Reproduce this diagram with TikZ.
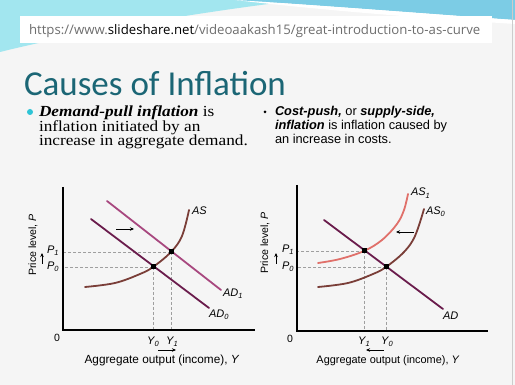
\documentclass[tikz,border=0pt]{standalone}
\usepackage{fontspec}
\setmainfont{Liberation Sans}
\newfontfamily\titlefont{Carlito}
\newfontfamily\urlfont{Open Sans}
\newfontfamily\serifw[FakeStretch=1.12]{Liberation Serif}
\usetikzlibrary{arrows.meta}
\definecolor{bgc}{HTML}{F5F5F5}
\definecolor{cyanbg}{HTML}{A2E6EF}
\definecolor{bluebg}{HTML}{7CCCE5}
\definecolor{titlec}{HTML}{1B6675}
\definecolor{bulletc}{HTML}{2EC4D6}
\definecolor{urlgray}{HTML}{6E6E6E}
\definecolor{adc}{HTML}{6A1C4C}
\definecolor{adlight}{HTML}{A8487F}
\definecolor{asc}{HTML}{7A3E38}
\definecolor{aslight}{HTML}{E0706A}
\newcommand\lbl[2]{\textit{#1}\raisebox{-0.4ex}{\fontsize{7.5}{7.5}\selectfont #2}}
\tikzset{
  txt/.style={inner sep=0pt, outer sep=0pt},
  axisline/.style={line width=1.8pt, black},
  guide/.style={densely dashed, gray!75, line width=0.6pt},
  curveline/.style={line width=1.8pt, line cap=round},
  dotmark/.style={rectangle, fill=black, minimum size=5pt, inner sep=0pt},
  shiftarrow/.style={-{Stealth[length=4pt,width=3.5pt]}, line width=0.8pt},
  glabel/.style={txt, font=\fontsize{11}{11}\selectfont\itshape},
}
\begin{document}
\begin{tikzpicture}[x=1pt,y=-1pt]
\useasboundingbox (0,0) rectangle (515,385);
\fill[bgc] (0,0) rectangle (515,385);
% background swooshes
\fill[cyanbg] (0,0) -- (300,0) .. controls (200,12) and (80,32) .. (0,52) -- cycle;
\fill[bluebg] (235,0) -- (515,0) -- (515,20) .. controls (430,14) and (330,6) .. (235,0) -- cycle;
\fill[white] (235,0) .. controls (330,6) and (430,14) .. (515,20) -- (515,24) .. controls (420,18) and (320,10) .. (235,0) -- cycle;
\draw[gray!40, line width=1pt] (512,0) -- (512,385);
% URL box
\fill[white] (20,16) rectangle (492,43);
\node[txt, anchor=base west, font=\urlfont\fontsize{13.2}{14}\selectfont, text=urlgray] (url) at (29,35)
  {https://www.{\color{black}slideshare.net}/videoaakash15/great-introduction-to-as-curve};
% title
\node[txt, anchor=base west, font=\titlefont\fontsize{35}{36}\selectfont, text=titlec] (title) at (24,96) {Causes of Inflation};
% left bullet
\fill[bulletc] (30,112) circle (3);
\node[txt, anchor=base west, font=\serifw\fontsize{15.4}{16}\selectfont] (l1) at (39,117) {\textbf{\textit{Demand-pull inflation}} is};
\node[txt, anchor=base west, font=\serifw\fontsize{15.4}{16}\selectfont] (l2) at (39,131.5) {inflation initiated by an};
\node[txt, anchor=base west, font=\serifw\fontsize{15.4}{16}\selectfont] (l3) at (39,146) {increase in aggregate demand.};
% right bullet
\fill[black] (265,112) circle (1.5);
\node[txt, anchor=base west, font=\fontsize{12.8}{13}\selectfont] (r1) at (275,116) {\textbf{\textit{Cost-push,}} or \textbf{\textit{supply-side,}}};
\node[txt, anchor=base west, font=\fontsize{12.8}{13}\selectfont] (r2) at (275,130) {\textbf{\textit{inflation}} is inflation caused by};
\node[txt, anchor=base west, font=\fontsize{12.8}{13}\selectfont] (r3) at (275,143.5) {an increase in costs.};

% ================= LEFT GRAPH =================
\coordinate (O1) at (63,330);
\node[dotmark] (E0) at (153,267) {};
\node[dotmark] (E1) at (171,252) {};
\draw[guide] (E0.center) -- (E0.center -| O1);
\draw[guide] (E1.center) -- (E1.center -| O1);
\draw[guide] (E0.center) -- (E0.center |- O1);
\draw[guide] (E1.center) -- (E1.center |- O1);
\draw[curveline, adc] (91,219) -- (209,308);
\draw[curveline, adlight] (107,201) -- (221,290);
\draw[curveline, asc] plot[smooth, tension=0.6] coordinates {(85,287) (115,283) (140,274) (153,267) (171,252) (182,236) (189,210)};
\node[dotmark] at (E0) {};
\node[dotmark] at (E1) {};
\draw[axisline] (63,187) -- (O1) -- (255,330);
\node[txt, font=\fontsize{10.5}{11}\selectfont] (zero1) at (57,338) {0};
\node[txt, rotate=90, font=\fontsize{10.6}{11}\selectfont] (plab1) at (33,245) {Price level, \textit{P}};
\draw[shiftarrow] (42,264) -- (42,253);
\node[glabel, anchor=west] (P1a) at (47,251) {\lbl{P}{1}};
\node[glabel, anchor=west] (P0a) at (47,267) {\lbl{P}{0}};
\node[glabel] (Y0a) at (153,342) {\lbl{Y}{0}};
\node[glabel] (Y1a) at (172,342) {\lbl{Y}{1}};
\draw[shiftarrow] (158,350) -- (176,350);
\node[txt, font=\fontsize{11.8}{12}\selectfont] (xlab1) at (162,360) {Aggregate output (income), \textit{Y}};
\node[glabel, anchor=west] (ASa) at (192,211) {AS};
\node[glabel, anchor=west] (AD1a) at (223,294) {\lbl{AD}{1}};
\node[glabel, anchor=west] (AD0a) at (209,315) {\lbl{AD}{0}};
\draw[shiftarrow] (116,229) -- (134,229);

% ================= RIGHT GRAPH =================
\coordinate (O2) at (297,331);
\node[dotmark] (F1) at (364,251) {};
\node[dotmark] (F0) at (386,267) {};
\draw[guide] (F0.center) -- (F0.center -| O2);
\draw[guide] (F1.center) -- (F1.center -| O2);
\draw[guide] (F0.center) -- (F0.center |- O2);
\draw[guide] (F1.center) -- (F1.center |- O2);
\draw[curveline, aslight] plot[smooth, tension=0.6] coordinates {(318,263) (340,259) (364,251) (382,240) (397,224) (404,210) (408,194)};
\draw[curveline, asc] plot[smooth, tension=0.6] coordinates {(318,287) (348,283) (373,274) (386,267) (404,252) (415,236) (424,209)};
\draw[curveline, adc] (324,220) -- (443,309);
\node[dotmark] at (F0) {};
\node[dotmark] at (F1) {};
\draw[axisline] (297,185) -- (O2) -- (488,331);
\node[txt, font=\fontsize{10.5}{11}\selectfont] (zero2) at (290,339) {0};
\node[txt, rotate=90, font=\fontsize{10.6}{11}\selectfont] (plab2) at (265,243) {Price level, \textit{P}};
\draw[shiftarrow] (276,264) -- (276,253);
\node[glabel, anchor=west] (P1b) at (282,250) {\lbl{P}{1}};
\node[glabel, anchor=west] (P0b) at (282,267) {\lbl{P}{0}};
\node[glabel] (Y1b) at (364,342) {\lbl{Y}{1}};
\node[glabel] (Y0b) at (387,342) {\lbl{Y}{0}};
\draw[shiftarrow] (384,350) -- (366,350);
\node[txt, font=\fontsize{10.9}{11}\selectfont] (xlab2) at (388,361) {Aggregate output (income), \textit{Y}};
\node[glabel, anchor=west] (AS1b) at (411,193) {\lbl{AS}{1}};
\node[glabel, anchor=west] (AS0b) at (426,212) {\lbl{AS}{0}};
\node[glabel, anchor=west] (ADb) at (443,316) {AD};
\draw[shiftarrow] (414,232) -- (396,232);
\end{tikzpicture}
\end{document}
